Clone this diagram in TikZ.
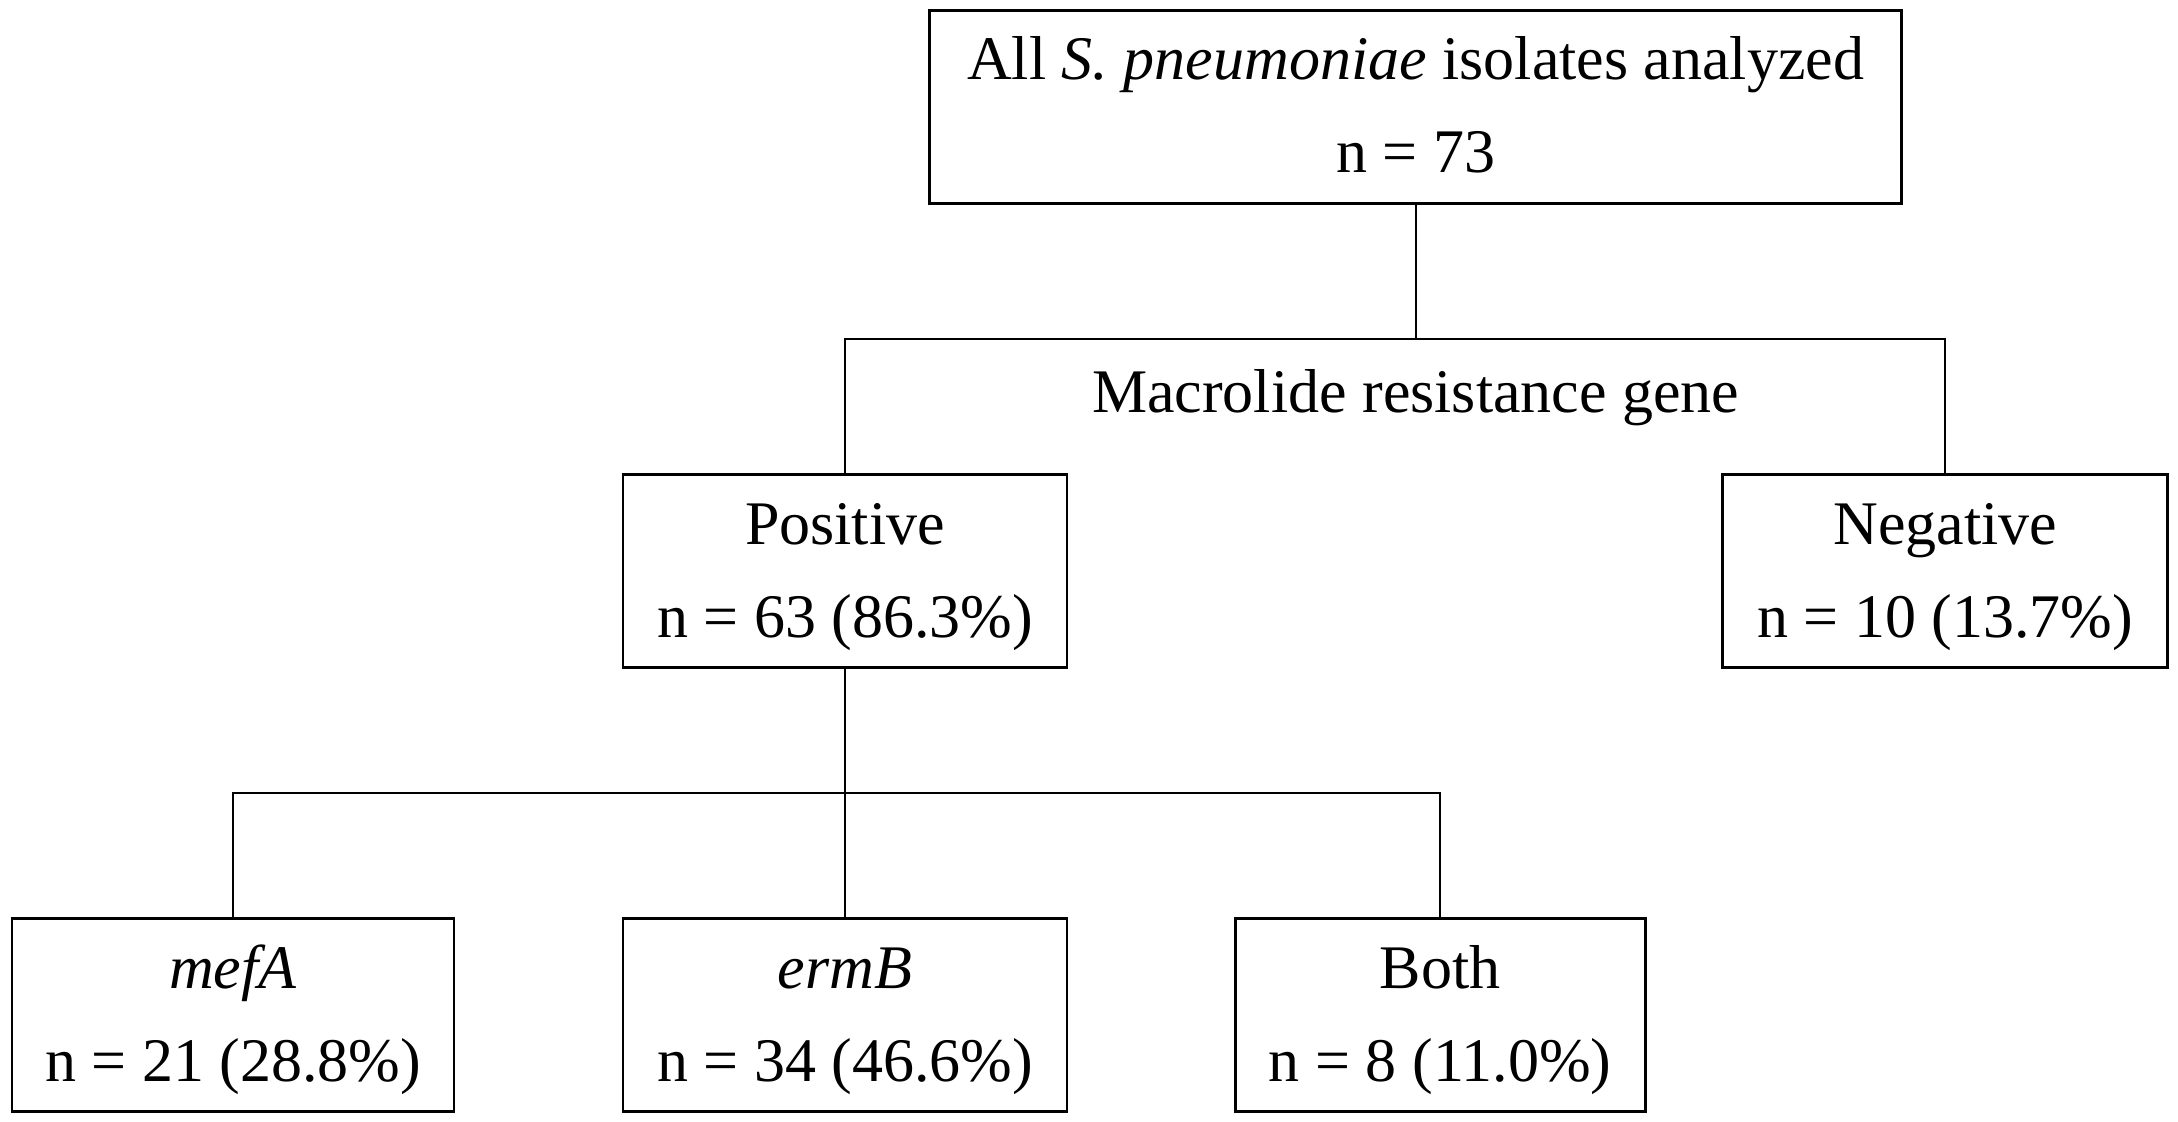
\documentclass[tikz,border=0pt]{standalone}
\usepackage{fontspec}
\setmainfont{Liberation Serif}
\newcommand\toprow{\rule{0pt}{30pt}}
\newcommand\botrow{\rule[-10.5pt]{0pt}{10.5pt}}
\begin{document}
\begin{tikzpicture}[x=0.5pt,y=-0.5pt,
  box/.style={draw, line width=1.4pt, rectangle, minimum height=96.5pt, inner sep=0pt,
    align=center, font=\fontsize{31}{46.5}\selectfont},
  conn/.style={line width=1pt},
  lbl/.style={inner sep=0pt, anchor=base, font=\fontsize{31}{46.5}\selectfont}]
\useasboundingbox (0,0) rectangle (2178,1122);
\node[box, minimum width=486pt] (top) at (1415.7,107) {\toprow All \textit{S. pneumoniae} isolates analyzed\\ n = 73\botrow};
\node[box, minimum width=222pt] (pos) at (845,571) {\toprow Positive\\ n = 63 (86.3\%)\botrow};
\node[box, minimum width=222.5pt] (neg) at (1945.3,571) {\toprow Negative\\ n = 10 (13.7\%)\botrow};
\node[box, minimum width=221pt] (mefA) at (233,1015) {\toprow \textit{mefA}\\ n = 21 (28.8\%)\botrow};
\node[box, minimum width=222pt] (ermB) at (845,1015) {\toprow \textit{ermB}\\ n = 34 (46.6\%)\botrow};
\node[box, minimum width=205pt] (both) at (1440.2,1015) {\toprow Both\\ n = 8 (11.0\%)\botrow};
\node[lbl] (gene) at (1415.7,413) {Macrolide resistance gene};
\coordinate (j1) at (1415.7,339);
\coordinate (j2) at (845,793);
\draw[conn] (top.south) -- (j1);
\draw[conn] (pos.north) -- (pos.north |- j1) -- (neg.north |- j1) -- (neg.north);
\draw[conn] (pos.south) -- (ermB.north);
\draw[conn] (mefA.north) -- (mefA.north |- j2) -- (both.north |- j2) -- (both.north);
\end{tikzpicture}
\end{document}
